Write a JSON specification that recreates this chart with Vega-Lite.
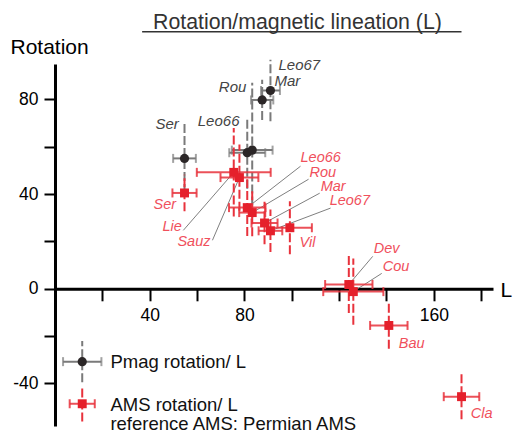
{
  "$schema": "https://vega.github.io/schema/vega-lite/v6.json",
  "width": 438,
  "height": 362,
  "autosize": {"type": "none"},
  "padding": {"left": 55, "top": 64, "right": 20, "bottom": 7},
  "config": {"view": {"stroke": null}, "font": "Liberation Sans"},
  "title": {
    "text": "Rotation/magnetic lineation (L)",
    "anchor": "start",
    "frame": "group",
    "dx": 98,
    "dy": 19,
    "baseline": "alphabetic",
    "offset": 0,
    "fontSize": 21.3,
    "fontWeight": "normal",
    "color": "#333333",
    "font": "Liberation Sans"
  },
  "datasets": {
    "sites": [
      {"series": "Pmag", "kind": "site", "name": "Ser", "x": 54.7, "y": 55.1, "ex": 4.8, "ey": 14.6, "lx": 42.4, "ly": 69.6},
      {"series": "Pmag", "kind": "site", "name": "Leo66", "x": 81.2, "y": 57.5, "ex": 7.6, "ey": 15.2, "lx": 60.3, "ly": 70.9},
      {"series": "Pmag", "kind": "site", "name": "Rou", "x": 83.3, "y": 58.6, "ex": 8.6, "ey": 28.5, "lx": 69.2, "ly": 85.3},
      {"series": "Pmag", "kind": "site", "name": "Mar", "x": 87.5, "y": 79.8, "ex": 4.7, "ey": 8.5, "lx": 92.7, "ly": 87.8},
      {"series": "Pmag", "kind": "site", "name": "Leo67", "x": 91.0, "y": 83.8, "ex": 4.0, "ey": 13.0, "lx": 94.4, "ly": 94.6},
      {"series": "AMS", "kind": "site", "name": "Ser", "x": 54.7, "y": 40.5, "ex": 5.1, "ey": 7.7, "lx": 41.6, "ly": 35.3},
      {"series": "AMS", "kind": "site", "name": "Lie", "x": 75.5, "y": 49.2, "ex": 15.6, "ey": 18.7, "lx": 45.4, "ly": 26.0, "leaderX": 54.2, "leaderY": 24.7},
      {"series": "AMS", "kind": "site", "name": "Sauz", "x": 77.9, "y": 47.0, "ex": 8.0, "ey": 14.0, "lx": 51.7, "ly": 19.6, "leaderX": 66.5, "leaderY": 20.5},
      {"series": "AMS", "kind": "site", "name": "Leo66", "x": 81.2, "y": 34.3, "ex": 7.7, "ey": 12.0, "lx": 103.7, "ly": 55.2, "leaderX": 103.7, "leaderY": 51.8},
      {"series": "AMS", "kind": "site", "name": "Rou", "x": 83.3, "y": 32.2, "ex": 5.5, "ey": 10.0, "lx": 107.5, "ly": 48.9, "leaderX": 107.1, "leaderY": 46.3},
      {"series": "AMS", "kind": "site", "name": "Mar", "x": 88.5, "y": 27.8, "ex": 5.5, "ey": 9.0, "lx": 112.2, "ly": 42.9, "leaderX": 111.8, "leaderY": 40.4},
      {"series": "AMS", "kind": "site", "name": "Leo67", "x": 91.0, "y": 24.5, "ex": 5.0, "ey": 9.0, "lx": 116.0, "ly": 37.0, "leaderX": 116.4, "leaderY": 34.1},
      {"series": "AMS", "kind": "site", "name": "Vil", "x": 99.2, "y": 25.8, "ex": 9.3, "ey": 11.2, "lx": 103.3, "ly": 19.2},
      {"series": "AMS", "kind": "site", "name": "Dev", "x": 124.1, "y": 1.8, "ex": 10.0, "ey": 12.0, "lx": 134.6, "ly": 16.7, "leaderX": 134.2, "leaderY": 13.7},
      {"series": "AMS", "kind": "site", "name": "Cou", "x": 126.0, "y": -1.2, "ex": 12.7, "ey": 14.0, "lx": 138.4, "ly": 9.4, "leaderX": 138.0, "leaderY": 6.5},
      {"series": "AMS", "kind": "site", "name": "Bau", "x": 141.0, "y": -15.5, "ex": 7.9, "ey": 9.9, "lx": 145.2, "ly": -23.2},
      {"series": "AMS", "kind": "site", "name": "Cla", "x": 171.7, "y": -45.6, "ex": 7.5, "ey": 9.5, "lx": 175.6, "ly": -52.8},
      {"series": "Pmag", "kind": "key", "name": "", "x": 11.5, "y": -30.8, "ex": 8.1, "ey": 8.7},
      {"series": "AMS", "kind": "key", "name": "", "x": 11.5, "y": -48.6, "ex": 5.3, "ey": 7.5}
    ],
    "keytext": [
      {"text": "Pmag rotation/ L", "x": 23.4, "y": -31.1},
      {"text": "AMS rotation/ L", "x": 23.4, "y": -49.0},
      {"text": "reference AMS: Permian AMS", "x": 23.4, "y": -57.1}
    ],
    "underline": [
      {"x": 36.8, "x2": 171.7, "y": 108.6}
    ]
  },
  "encoding": {
    "x": {
      "field": "x",
      "type": "quantitative",
      "scale": {"domain": [0, 185], "nice": false, "zero": false},
      "axis": {
        "title": "L",
        "values": [20, 40, 60, 80, 100, 120, 140, 160, 180],
        "labelExpr": "datum.value == 40 || datum.value == 80 || datum.value == 160 ? datum.label : ''",
        "offset": -137.2,
        "grid": false,
        "domainColor": "#000000",
        "domainWidth": 3,
        "tickColor": "#000000",
        "tickWidth": 2,
        "tickSize": 12,
        "labelFontSize": 17.5,
        "labelColor": "#000000",
        "labelPadding": 6,
        "labelFlush": false,
        "labelOverlap": false,
        "titleFontSize": 21,
        "titleFontWeight": "normal",
        "titleColor": "#000000",
        "titleAngle": 0,
        "titleAlign": "left",
        "titleBaseline": "middle",
        "titleX": 445,
        "titleY": 2
      }
    },
    "y": {
      "field": "y",
      "type": "quantitative",
      "scale": {"domain": [-58, 95], "nice": false, "zero": false},
      "axis": {
        "title": "Rotation",
        "values": [-40, -20, 0, 20, 40, 60, 80],
        "labelExpr": "datum.value % 40 == 0 ? (datum.value < 0 ? '-' + abs(datum.value) : '' + datum.value) : ''",
        "grid": false,
        "domainColor": "#000000",
        "domainWidth": 3,
        "tickColor": "#000000",
        "tickWidth": 2,
        "tickSize": 11,
        "labelFontSize": 17.5,
        "labelColor": "#000000",
        "labelPadding": 6,
        "labelFlush": false,
        "labelOverlap": false,
        "titleFontSize": 21,
        "titleFontWeight": "normal",
        "titleColor": "#000000",
        "titleAngle": 0,
        "titleAlign": "left",
        "titleBaseline": "middle",
        "titleX": -45,
        "titleY": -17
      }
    }
  },
  "layer": [
    {
      "data": {"name": "underline"},
      "mark": {"type": "rule", "color": "#333333", "strokeWidth": 1.6, "clip": false},
      "encoding": {"x2": {"field": "x2"}}
    },
    {
      "data": {"name": "sites"},
      "transform": [{"filter": "isValid(datum.leaderX)"}],
      "mark": {"type": "rule", "color": "#707070", "strokeWidth": 0.9},
      "encoding": {"x2": {"field": "leaderX"}, "y2": {"field": "leaderY"}}
    },
    {
      "data": {"name": "sites"},
      "transform": [{"filter": "datum.series == 'Pmag'"}],
      "mark": {"type": "errorbar", "color": "#7a7a7a", "rule": {"strokeWidth": 2, "strokeDash": [9, 3]}},
      "encoding": {"yError": {"field": "ey"}}
    },
    {
      "data": {"name": "sites"},
      "transform": [{"filter": "datum.series == 'Pmag'"}],
      "mark": {"type": "errorbar", "color": "#7a7a7a", "rule": {"strokeWidth": 2}, "ticks": {"size": 9, "thickness": 2}},
      "encoding": {"xError": {"field": "ex"}}
    },
    {
      "data": {"name": "sites"},
      "transform": [{"filter": "datum.series == 'Pmag'"}],
      "mark": {"type": "point", "shape": "circle", "filled": true, "opacity": 1, "size": 85, "color": "#2b2627"}
    },
    {
      "data": {"name": "sites"},
      "transform": [{"filter": "datum.series == 'AMS'"}],
      "mark": {"type": "errorbar", "color": "#e8323c", "rule": {"strokeWidth": 2, "strokeDash": [9, 3]}},
      "encoding": {"yError": {"field": "ey"}}
    },
    {
      "data": {"name": "sites"},
      "transform": [{"filter": "datum.series == 'AMS'"}],
      "mark": {"type": "errorbar", "color": "#e8323c", "opacity": 0.85, "rule": {"strokeWidth": 2}, "ticks": {"size": 9, "thickness": 2}},
      "encoding": {"xError": {"field": "ex"}}
    },
    {
      "data": {"name": "sites"},
      "transform": [{"filter": "datum.series == 'AMS'"}],
      "mark": {"type": "square", "filled": true, "opacity": 1, "size": 80, "color": "#e5202b"}
    },
    {
      "data": {"name": "sites"},
      "transform": [{"filter": "datum.kind == 'site' && datum.series == 'Pmag'"}],
      "mark": {"type": "text", "align": "left", "baseline": "middle", "fontSize": 15, "fontStyle": "italic", "color": "#444444"},
      "encoding": {
        "x": {"field": "lx", "type": "quantitative", "title": "L"},
        "y": {"field": "ly", "type": "quantitative", "title": "Rotation"},
        "text": {"field": "name"}
      }
    },
    {
      "data": {"name": "sites"},
      "transform": [{"filter": "datum.kind == 'site' && datum.series == 'AMS'"}],
      "mark": {"type": "text", "align": "left", "baseline": "middle", "fontSize": 14.5, "fontStyle": "italic", "color": "#f0505c"},
      "encoding": {
        "x": {"field": "lx", "type": "quantitative", "title": "L"},
        "y": {"field": "ly", "type": "quantitative", "title": "Rotation"},
        "text": {"field": "name"}
      }
    },
    {
      "data": {"name": "keytext"},
      "mark": {"type": "text", "align": "left", "baseline": "middle", "fontSize": 18.5, "color": "#111111", "clip": false},
      "encoding": {"text": {"field": "text"}}
    }
  ]
}
